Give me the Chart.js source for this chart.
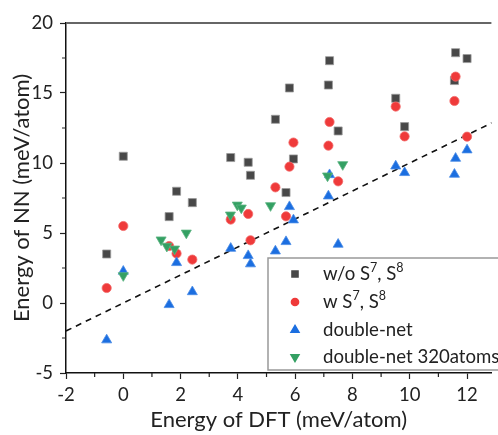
<!DOCTYPE html>
<html>
<head>
<meta charset="utf-8">
<script src="https://cdn.jsdelivr.net/npm/chart.js@4.4.1/dist/chart.umd.min.js"></script>
<style>
  html, body { margin: 0; padding: 0; background: #fff; }
</style>
</head>
<body>
<canvas id="chart" width="498" height="435"></canvas>
<script>
// Energy of DFT (x) shared by the first three series, meV/atom
const dftX = [-0.58, 0, 1.6, 1.86, 2.41, 3.75, 4.36, 4.44, 5.31, 5.68, 5.8, 5.94, 7.16, 7.2, 7.5, 9.51, 9.82, 11.56, 11.6, 12.0];
// Energy of NN (y)
const woS78 = [3.5, 10.48, 6.17, 7.98, 7.17, 10.39, 10.05, 9.12, 13.12, 7.89, 15.36, 10.29, 15.57, 17.31, 12.29, 14.62, 12.6, 15.89, 17.88, 17.46];
const wS78 = [1.07, 5.5, 4.07, 3.53, 3.1, 5.96, 6.36, 4.48, 8.26, 6.19, 9.74, 11.46, 11.24, 12.93, 8.69, 14.03, 11.9, 14.43, 16.17, 11.88];
const doubleNet = [-2.64, 2.26, -0.12, 2.88, 0.8, 3.9, 3.38, 2.79, 3.71, 4.38, 6.88, 5.93, 7.64, 9.16, 4.19, 9.78, 9.31, 9.19, 10.33, 10.93];
// double-net 320atoms has its own x values
const dn320X = [0, 1.32, 1.52, 1.79, 2.2, 3.74, 3.98, 4.12, 5.14, 7.13, 7.66];
const dn320Y = [1.96, 4.51, 4.06, 3.86, 5.0, 6.29, 7.0, 6.79, 6.96, 9.08, 9.89];
// y = x guide
const diagonal = [-2, 13];

const xTicksMinor = [-1, 1, 3, 5, 7, 9, 11];
const yTicksMinor = [-2.5, 2.5, 7.5, 12.5, 17.5];

const legendLabels = [
  [{t: 'w/o S'}, {t: '7', sup: true}, {t: ', S'}, {t: '8', sup: true}],
  [{t: 'w S'}, {t: '7', sup: true}, {t: ', S'}, {t: '8', sup: true}],
  [{t: 'double-net'}],
  [{t: 'double-net 320atoms'}]
];

const FONT = 'Lato';
const pts = (xs, ys) => xs.map((x, i) => ({x: x, y: ys[i]}));

const extras = {
  id: 'extras',
  afterDraw(chart) {
    const {ctx, chartArea: a, scales: {x, y}} = chart;
    ctx.save();
    // top frame line
    ctx.strokeStyle = '#666';
    ctx.lineWidth = 2;
    ctx.beginPath();
    ctx.moveTo(a.left, a.top);
    ctx.lineTo(a.right, a.top);
    ctx.stroke();
    // minor ticks
    ctx.strokeStyle = '#222';
    ctx.lineWidth = 1.2;
    ctx.beginPath();
    xTicksMinor.forEach(v => {
      const px = x.getPixelForValue(v);
      ctx.moveTo(px, a.bottom);
      ctx.lineTo(px, a.bottom + 4);
    });
    yTicksMinor.forEach(v => {
      const py = y.getPixelForValue(v);
      ctx.moveTo(a.left, py);
      ctx.lineTo(a.left - 4, py);
    });
    ctx.stroke();

    // legend box
    const bx = 268, by = 258, bw = 240, bh = 112;
    ctx.fillStyle = '#fff';
    ctx.fillRect(bx, by, bw, bh);
    ctx.strokeStyle = '#999';
    ctx.lineWidth = 1.5;
    ctx.strokeRect(bx, by, bw, bh);
    const rows = [274, 302, 330, 357];
    const sizes = [4.3, 3.6, 4.6, 4.6];
    chart.data.datasets.slice(0, 4).forEach((ds, i) => {
      ctx.fillStyle = ds.backgroundColor;
      ctx.strokeStyle = ds.backgroundColor;
      Chart.helpers.drawPoint(ctx, {
        pointStyle: ds.pointStyle, rotation: ds.pointRotation || 0,
        radius: sizes[i], borderWidth: 0.5
      }, 295, rows[i]);
      let tx = 323;
      ctx.fillStyle = '#222';
      ctx.textBaseline = 'middle';
      ctx.textAlign = 'left';
      legendLabels[i].forEach(p => {
        ctx.font = (p.sup ? 12.5 : 18.6) + 'px ' + FONT;
        ctx.fillText(p.t, tx, rows[i] + (p.sup ? -6 : 0));
        tx += ctx.measureText(p.t).width;
      });
    });
    ctx.restore();
  }
};

new Chart(document.getElementById('chart').getContext('2d'), {
  type: 'scatter',
  data: {
    datasets: [
      {
        label: 'w/o S7, S8', data: pts(dftX, woS78), order: 4,
        pointStyle: 'rect', pointRadius: 5.7, backgroundColor: '#484848', borderColor: '#9a9a9a', borderWidth: 0.8
      },
      {
        label: 'w S7, S8', data: pts(dftX, wS78), order: 3,
        pointStyle: 'circle', pointRadius: 4.6, backgroundColor: '#ef3a3a', borderColor: '#f36a6a', borderWidth: 0.8
      },
      {
        label: 'double-net', data: pts(dftX, doubleNet), order: 2,
        pointStyle: 'triangle', pointRadius: 5.8, backgroundColor: '#1b6ee0', borderColor: '#4a8ce6', borderWidth: 0.8
      },
      {
        label: 'double-net 320atoms', data: pts(dn320X, dn320Y), order: 1,
        pointStyle: 'triangle', pointRotation: 180, pointRadius: 5.8, backgroundColor: '#34a063', borderColor: '#5cb482', borderWidth: 0.8
      },
      {
        type: 'line', label: 'y = x', data: pts(diagonal, diagonal), order: 5,
        borderColor: '#111', borderWidth: 1.6, borderDash: [6, 5], pointRadius: 0, fill: false
      }
    ]
  },
  options: {
    responsive: false,
    animation: false,
    layout: { padding: { top: 23, right: 0, bottom: 0, left: 0 } },
    plugins: { legend: { display: false }, tooltip: { enabled: false } },
    scales: {
      x: {
        type: 'linear', min: -2, max: 12.85,
        ticks: { stepSize: 2, includeBounds: false, color: '#222', font: { family: FONT, size: 18.5 }, padding: 5, maxRotation: 0 },
        grid: { drawOnChartArea: false, tickLength: 6, tickColor: '#222', tickWidth: 1.2 },
        border: { color: '#111', width: 1.5 },
        title: { display: true, text: 'Energy of DFT (meV/atom)', color: '#222', font: { family: FONT, size: 22 }, padding: { top: 0, bottom: 2 } },
        afterFit: s => { s.height = 62; }
      },
      y: {
        type: 'linear', min: -5, max: 20,
        ticks: { stepSize: 5, color: '#222', font: { family: FONT, size: 18.5 }, padding: 7 },
        grid: { drawOnChartArea: false, tickLength: 6, tickColor: '#222', tickWidth: 1.2 },
        border: { color: '#111', width: 1.5 },
        title: { display: true, text: 'Energy of NN (meV/atom)', color: '#222', font: { family: FONT, size: 22 }, padding: { top: 9, bottom: 0 } },
        afterFit: s => { s.width = 66; }
      }
    }
  },
  plugins: [extras]
});
</script>
</body>
</html>
